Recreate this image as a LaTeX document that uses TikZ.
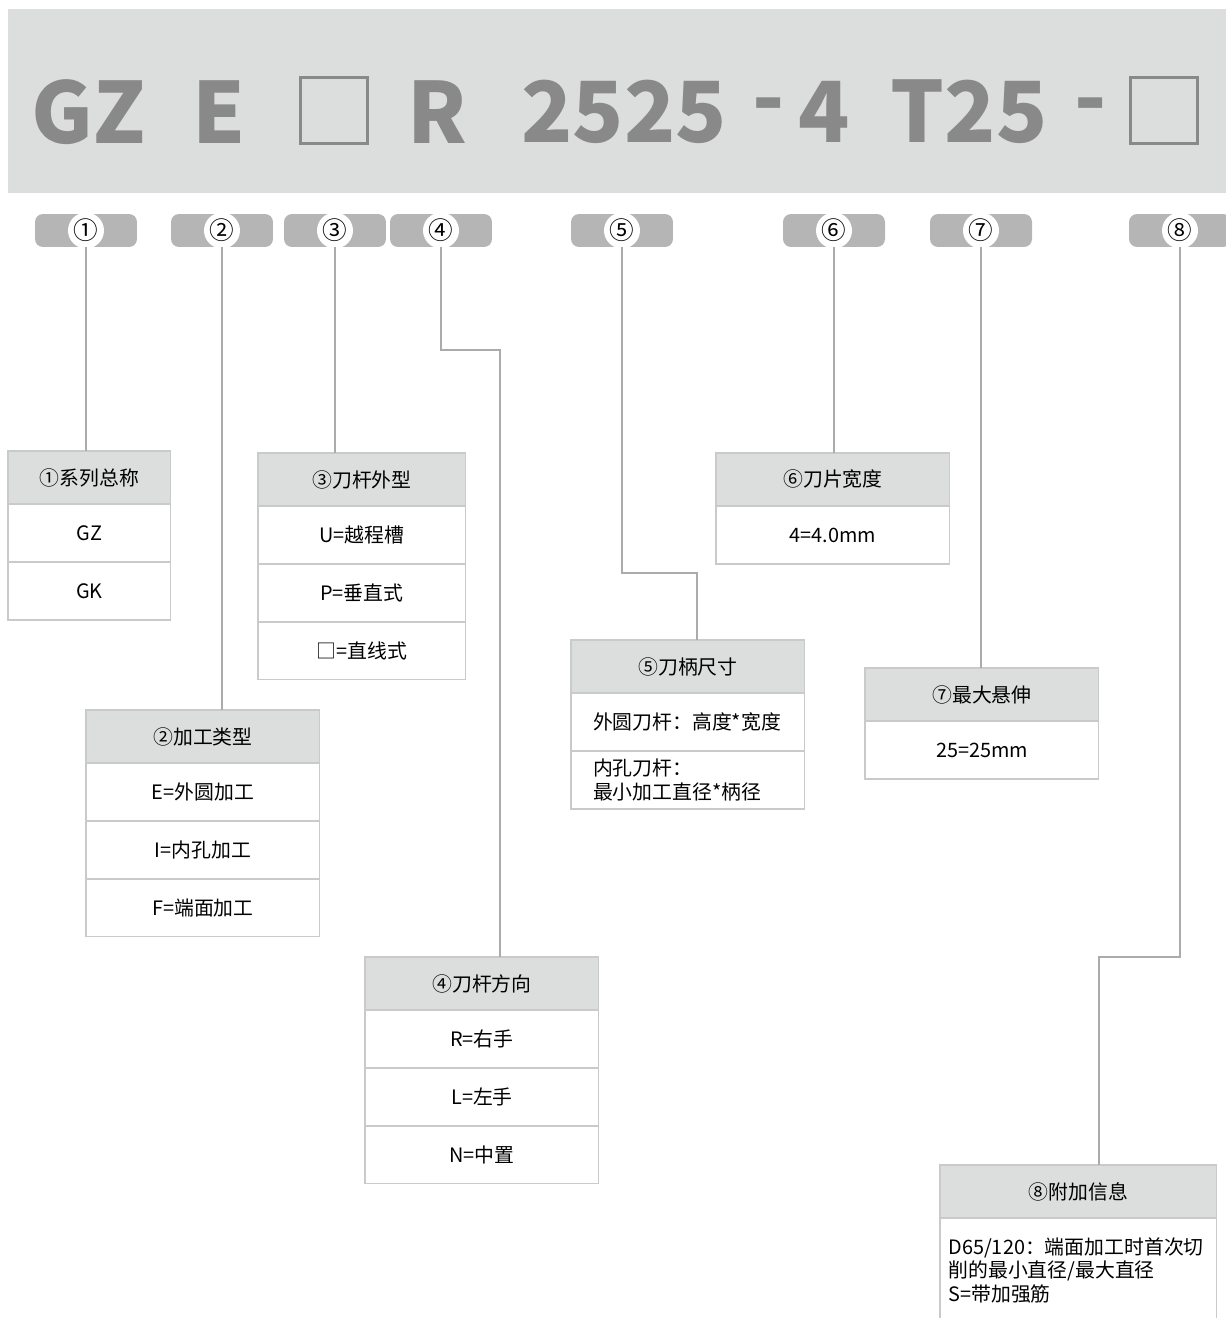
\documentclass[tikz,border=0pt]{standalone}
\usepackage{fontspec}
\setmainfont{Noto Sans CJK SC}
\usetikzlibrary{positioning}
\definecolor{BandGray}{HTML}{DCDDDD}
\definecolor{CodeGray}{HTML}{898989}
\definecolor{PillGray}{HTML}{B5B5B5}
\definecolor{LineGray}{HTML}{ABABAB}
\definecolor{FrameGray}{HTML}{C9CACA}
\tikzset{
  code/.style={text=CodeGray, font=\fontsize{48}{48}\selectfont\bfseries,
    inner sep=0pt},
  codebox/.style={draw=CodeGray, line width=1.4pt, minimum width=1.34cm,
    minimum height=1.32cm},
  pill/.style={fill=PillGray, rounded corners=0.16cm, minimum width=2.04cm,
    minimum height=0.66cm},
  numdot/.style={circle, fill=white, minimum size=0.72cm, inner sep=0pt,
    font=\fontsize{14}{14}\selectfont},
  hdr/.style={draw=FrameGray, fill=BandGray, line width=0.6pt,
    minimum width=#1, minimum height=1.06cm, inner sep=0pt, outer sep=0pt,
    font=\fontsize{11.3}{13.4}\selectfont},
  cell/.style={draw=FrameGray, fill=white, line width=0.6pt,
    minimum width=#1, minimum height=1.16cm, inner sep=0pt, outer sep=0pt,
    font=\fontsize{11.3}{13.4}\selectfont},
  link/.style={draw=LineGray, line width=0.6pt}
}

\begin{document}
\begin{tikzpicture}[x=0.02cm, y=-0.02cm, node distance=0pt]
  \useasboundingbox (0,0) rectangle (1226,1318);

  % code band
  \fill[BandGray] (8,9) rectangle (1240,193);
  \node[code] (gz) at (89,112) {GZ};
  \node[code] (e) at (219,112) {E};
  \node[codebox] (q1) at (334,110.5) {};
  \node[code] (r) at (437,112) {R};
  \node[code] (sz) at (624,112) {2525};
  \node[code] (d1) at (769,113) {-};
  \node[code] (w) at (824,112) {4};
  \node[code] (t) at (969,112) {T25};
  \node[code] (d2) at (1091,113) {-};
  \node[codebox] (q2) at (1164,110.5) {};

  % number pills
  \node[pill] (p1) at (86,230.5) {};
  \node[pill] (p2) at (222,230.5) {};
  \node[pill] (p3) at (335,230.5) {};
  \node[pill] (p4) at (441,230.5) {};
  \node[pill] (p5) at (622,230.5) {};
  \node[pill] (p6) at (834,230.5) {};
  \node[pill] (p7) at (981,230.5) {};
  \node[pill] (p8) at (1180,230.5) {};
  \node[numdot] at (p1) {①};
  \node[numdot] at (p2) {②};
  \node[numdot] at (p3) {③};
  \node[numdot] at (p4) {④};
  \node[numdot] at (p5) {⑤};
  \node[numdot] at (p6) {⑥};
  \node[numdot] at (p7) {⑦};
  \node[numdot] at (p8) {⑧};

  % tables
  \node[hdr=3.26cm, anchor=north west] (b1h) at (8,451) {①系列总称};
  \node[cell=3.26cm, below=of b1h] (b1a) {GZ};
  \node[cell=3.26cm, below=of b1a] (b1b) {GK};

  \node[hdr=4.68cm, anchor=north west] (b2h) at (86,710) {②加工类型};
  \node[cell=4.68cm, below=of b2h] (b2a) {E=外圆加工};
  \node[cell=4.68cm, below=of b2a] (b2b) {I=内孔加工};
  \node[cell=4.68cm, below=of b2b] (b2c) {F=端面加工};

  \node[hdr=4.16cm, anchor=north west] (b3h) at (258,453) {③刀杆外型};
  \node[cell=4.16cm, below=of b3h] (b3a) {U=越程槽};
  \node[cell=4.16cm, below=of b3a] (b3b) {P=垂直式};
  \node[cell=4.16cm, below=of b3b] (b3c) {□=直线式};

  \node[hdr=4.68cm, anchor=north west] (b4h) at (365,957) {④刀杆方向};
  \node[cell=4.68cm, below=of b4h] (b4a) {R=右手};
  \node[cell=4.68cm, below=of b4a] (b4b) {L=左手};
  \node[cell=4.68cm, below=of b4b] (b4c) {N=中置};

  \node[hdr=4.68cm, anchor=north west] (b5h) at (571,640) {⑤刀柄尺寸};
  \node[cell=4.68cm, below=of b5h, text width=3.8cm, align=left] (b5a) {外圆刀杆：高度*宽度};
  \node[cell=4.68cm, below=of b5a, text width=3.8cm, align=left] (b5b) {内孔刀杆：\\最小加工直径*柄径};

  \node[hdr=4.68cm, anchor=north west] (b6h) at (716,453) {⑥刀片宽度};
  \node[cell=4.68cm, below=of b6h] (b6a) {4=4.0mm};

  \node[hdr=4.68cm, anchor=north west] (b7h) at (865,668) {⑦最大悬伸};
  \node[cell=4.68cm, below=of b7h] (b7a) {25=25mm};

  \node[hdr=5.54cm, anchor=north west] (b8h) at (940,1165) {⑧附加信息};
  \node[cell=5.54cm, below=of b8h, minimum height=2.1cm, text width=5.2cm,
    align=left] (b8a) {D65/120：端面加工时首次切\\削的最小直径/最大直径\\S=带加强筋};

  % connectors
  \coordinate (k4) at (500,350);
  \coordinate (k5) at (697,573);
  \coordinate (k8) at (1099,957);
  \draw[link] (p1.south) -- (p1.south |- b1h.north);
  \draw[link] (p2.south) -- (p2.south |- b2h.north);
  \draw[link] (p3.south) -- (p3.south |- b3h.north);
  \draw[link] (p4.south) |- (k4) -- (k4 |- b4h.north);
  \draw[link] (p5.south) |- (k5) -- (k5 |- b5h.north);
  \draw[link] (p6.south) -- (p6.south |- b6h.north);
  \draw[link] (p7.south) -- (p7.south |- b7h.north);
  \draw[link] (p8.south) |- (k8) -- (k8 |- b8h.north);
\end{tikzpicture}
\end{document}
